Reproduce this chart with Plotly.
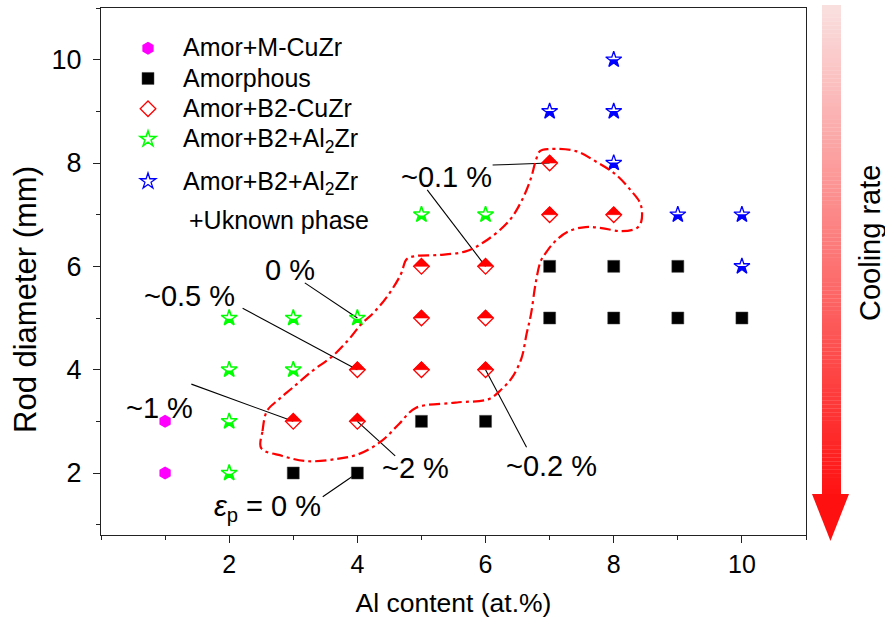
import math
import plotly.graph_objects as go

# ---------------- data ----------------
hex_x = [1, 1]
hex_y = [3, 2]

amor_x = [3, 4, 5, 6, 7, 8, 9, 7, 8, 9, 10]
amor_y = [2, 2, 3, 3, 6, 6, 6, 5, 5, 5, 5]

b2_x = [3, 4, 4, 5, 6, 5, 6, 5, 6, 7, 8, 7]
b2_y = [3, 3, 4, 4, 4, 5, 5, 6, 6, 7, 7, 8]

al2_x = [2, 2, 2, 3, 2, 3, 4, 5, 6]
al2_y = [2, 3, 4, 4, 5, 5, 5, 7, 7]

unk_x = [10, 9, 10, 8, 7, 8, 8]
unk_y = [6, 7, 7, 8, 9, 9, 10]

legend_names = ["Amor+M-CuZr", "Amorphous", "Amor+B2-CuZr",
                "Amor+B2+Al<sub>2</sub>Zr", "Amor+B2+Al<sub>2</sub>Zr"]
legend_extra = "+Uknown phase"

x_title = "Al content (at.%)"
y_title = "Rod diameter (mm)"
arrow_title = "Cooling rate"

# dash-dot boundary (closed)
bound_x = [2.50, 2.52, 2.59, 2.78, 2.98, 3.29, 3.61, 3.87, 4.06, 4.26, 4.49, 4.68, 4.77, 4.91,
           5.27, 5.69, 6.00, 6.36, 6.56, 6.71, 6.78, 6.85, 6.99, 7.41, 7.72, 8.03, 8.28, 8.42,
           8.43, 8.36, 8.12, 7.81, 7.56, 7.30, 7.09, 6.94, 6.86, 6.78, 6.71, 6.64, 6.56, 6.41,
           6.25, 6.05, 5.58, 5.43, 4.91, 4.65, 4.38, 4.03, 3.67, 3.20, 2.83, 2.50]
bound_y = [2.48, 2.81, 3.20, 3.43, 3.64, 3.97, 4.26, 4.59, 4.88, 5.11, 5.46, 5.85, 6.14, 6.20,
           6.22, 6.29, 6.49, 6.87, 7.26, 7.71, 8.03, 8.23, 8.27, 8.23, 8.03, 7.78, 7.45, 7.20,
           6.87, 6.74, 6.68, 6.74, 6.76, 6.68, 6.49, 6.26, 6.10, 5.66, 5.08, 4.69, 4.22, 3.84,
           3.62, 3.43, 3.37, 3.35, 3.26, 2.95, 2.62, 2.37, 2.27, 2.23, 2.33, 2.48]

# strain labels: text, label centre (x, y), leader start (x, y), pointed sample (x, y)
labels = ["~0.1 %", "~0.1 %", "~0.5 %", "0 %", "~1 %", "~2 %", "~0.2 %",
          "<i>ε</i><sub>p</sub> = 0 %"]
label_x = [5.39, None, 1.38, 2.95, 0.91, 4.91, 7.03, 2.60]
label_y = [7.73, None, 5.43, 5.92, 3.26, 2.10, 2.14, 1.32]
lead_x0 = [6.11, 5.09, 2.21, 3.18, 1.41, 4.59, 6.64, 3.46]
lead_y0 = [7.96, 7.48, 5.19, 5.68, 3.72, 2.33, 2.50, 1.54]
point_x = [7, 6, 4, 4, 3, 4, 6, 4]
point_y = [8, 6, 4, 5, 3, 3, 4, 2]

FONT = "Liberation Sans, Arial, sans-serif"
RED = "#FF0000"
GREEN = "#00FF00"
BLUE = "#0000FF"


def big(txt):
    return f'<span style="font-size:25px">{txt}</span>'


fig = go.Figure()

fig.add_trace(go.Scatter(x=hex_x, y=hex_y, mode="markers", name=big(legend_names[0]),
                         legendgroup="a",
                         marker=dict(symbol="hexagon", size=13, color="#FF00FF",
                                     line=dict(width=0))))
fig.add_trace(go.Scatter(x=amor_x, y=amor_y, mode="markers", name=big(legend_names[1]),
                         legendgroup="a",
                         marker=dict(symbol="square", size=12, color="black",
                                     line=dict(width=0.5, color="#444"))))
fig.add_trace(go.Scatter(x=b2_x, y=b2_y, mode="markers", name=big(legend_names[2]),
                         legendgroup="a",
                         marker=dict(symbol="diamond-open", size=12, color=RED,
                                     line=dict(width=1.3, color=RED))))
fig.add_trace(go.Scatter(x=al2_x, y=al2_y, mode="markers", name=big(legend_names[3]),
                         legendgroup="a",
                         marker=dict(symbol="star-open", size=12, color=GREEN,
                                     line=dict(width=1.5, color=GREEN))))
fig.add_trace(go.Scatter(x=unk_x, y=unk_y, mode="markers", name=big(legend_names[4]),
                         legendgroup="b",
                         marker=dict(symbol="star-open", size=12, color=BLUE,
                                     line=dict(width=1.3, color=BLUE))))

fig.add_trace(go.Scatter(x=bound_x, y=bound_y, mode="lines", showlegend=False,
                         line=dict(color=RED, width=2.2, shape="spline", smoothing=1.0,
                                   dash="11px,4px,3px,4px"),
                         hoverinfo="skip"))

shapes = []

# half-filled diamonds (top half) drawn in pixel units anchored on the data
rd = 1.3 * 6
top_half = f"M{-rd},0 L0,{rd} L{rd},0 Z"
for xv, yv in zip(b2_x, b2_y):
    shapes.append(dict(type="path", xref="x", yref="y", xsizemode="pixel", ysizemode="pixel",
                       xanchor=xv, yanchor=yv, path=top_half, fillcolor=RED,
                       line=dict(width=0.6, color=RED), layer="above"))


# half-filled stars (lower half)
def star_poly(size):
    r = size / 2.0
    rs = r * 1.4
    x1, x2, x3, x4 = rs * 0.225, rs * 0.951, rs * 0.363, rs * 0.588
    y1, y2, y3, y4, y5 = -rs, rs * -0.309, rs * 0.118, rs * 0.809, rs * 0.382
    pts = [(x1, y2), (x2, y2), (x3, y3), (x4, y4), (0, y5), (-x4, y4), (-x3, y3),
           (-x2, y2), (-x1, y2), (0, y1)]
    return [(px, -py) for px, py in pts], rs  # y up


def clip_below(poly, t):
    out = []
    n = len(poly)

    def inter(a, b):
        f = (t - a[1]) / (b[1] - a[1])
        return (a[0] + f * (b[0] - a[0]), t)

    for i in range(n):
        cur, prev = poly[i], poly[i - 1]
        cin, pin = cur[1] <= t, prev[1] <= t
        if cin:
            if not pin:
                out.append(inter(prev, cur))
            out.append(cur)
        elif pin:
            out.append(inter(prev, cur))
    return out


def poly_path(poly):
    return "M" + " L".join(f"{p[0]:.2f},{p[1]:.2f}" for p in poly) + " Z"


spoly, rs = star_poly(12)
star_half_blue = poly_path(clip_below(spoly, 0.05 * rs))
star_half_green = poly_path(clip_below(spoly, -0.1 * rs))
for xv, yv in zip(unk_x, unk_y):
    shapes.append(dict(type="path", xref="x", yref="y", xsizemode="pixel", ysizemode="pixel",
                       xanchor=xv, yanchor=yv, path=star_half_blue, fillcolor=BLUE,
                       line=dict(width=0), layer="above"))
for xv, yv in zip(al2_x, al2_y):
    shapes.append(dict(type="path", xref="x", yref="y", xsizemode="pixel", ysizemode="pixel",
                       xanchor=xv, yanchor=yv, path=star_half_green, fillcolor=GREEN,
                       line=dict(width=0), layer="above"))

# leader lines
for x0, y0, x1, y1 in zip(lead_x0, lead_y0, point_x, point_y):
    shapes.append(dict(type="line", xref="x", yref="y", x0=x0, y0=y0, x1=x1, y1=y1,
                       line=dict(color="black", width=1.1), layer="below"))

# cooling-rate gradient arrow (paper coords)
L, R = 101.0, 806.0
T, B = 8.0, 535.0
W, H = R - L, B - T


def px2paper_x(px):
    return (px - L) / W


def py2paper_y(py):
    return 1 - (py - T) / H


shaft_l, shaft_r = px2paper_x(822), px2paper_x(841)
top_y, base_y = py2paper_y(5), py2paper_y(494)
N = 120
for i in range(N):
    t = (i + 0.5) / N
    g = int(round(224 * (1 - t) + 18 * t))
    rr = int(round(250 * (1 - t) + 255 * t))
    ya = top_y + (base_y - top_y) * i / N
    yb = top_y + (base_y - top_y) * (i + 1) / N
    shapes.append(dict(type="rect", xref="paper", yref="paper", x0=shaft_l, x1=shaft_r,
                       y0=ya, y1=yb - 0.0005, fillcolor=f"rgb({rr},{g},{g})",
                       line=dict(width=0), layer="above"))
shapes.append(dict(type="path", xref="paper", yref="paper",
                   path=f"M{px2paper_x(812)},{base_y} L{px2paper_x(849)},{base_y} "
                        f"L{px2paper_x(830.5)},{py2paper_y(541)} Z",
                   fillcolor="rgb(255,16,16)", line=dict(width=0), layer="above"))

annotations = []
for txt, lx, ly in zip(labels, label_x, label_y):
    if lx is None:
        continue
    annotations.append(dict(x=lx, y=ly, xref="x", yref="y", text=txt, showarrow=False,
                            font=dict(family=FONT, size=29, color="black"),
                            xanchor="center", yanchor="middle"))
annotations.append(dict(x=px2paper_x(187), y=py2paper_y(220), xref="paper", yref="paper",
                        text=legend_extra, showarrow=False, xanchor="left",
                        yanchor="middle", font=dict(family=FONT, size=25, color="black")))
annotations.append(dict(x=px2paper_x(870), y=py2paper_y(243), xref="paper", yref="paper",
                        text=arrow_title, showarrow=False, textangle=-90,
                        xanchor="center", yanchor="middle",
                        font=dict(family=FONT, size=29, color="black")))
annotations.append(dict(x=px2paper_x(25), y=py2paper_y(300), xref="paper", yref="paper",
                        text=y_title, showarrow=False, textangle=-90,
                        xanchor="center", yanchor="middle",
                        font=dict(family=FONT, size=31, color="black")))

axis_common = dict(showline=True, linecolor="#222", linewidth=1.2, mirror=True,
                   ticks="outside", ticklen=7, tickwidth=1.2, tickcolor="#222",
                   showgrid=False, zeroline=False,
                   minor=dict(dtick=1, ticks="outside", ticklen=4, tickwidth=1.2,
                              tickcolor="#222", showgrid=False))

fig.update_layout(
    width=885, height=627,
    margin=dict(l=L, r=885 - R, t=T, b=627 - B),
    paper_bgcolor="white", plot_bgcolor="white",
    font=dict(family=FONT, color="black"),
    xaxis=dict(range=[0, 11], tickvals=[2, 4, 6, 8, 10], tick0=0,
               tickfont=dict(family=FONT, size=25, color="black"),
               title=dict(text=x_title, font=dict(family=FONT, size=26.5), standoff=16),
               **axis_common),
    yaxis=dict(range=[0.8, 11], tickvals=[2, 4, 6, 8, 10], tick0=1,
               tickfont=dict(family=FONT, size=27, color="black"), ticklabelstandoff=6,
               **axis_common),
    legend=dict(x=px2paper_x(113), y=py2paper_y(28), xanchor="left", yanchor="top",
                bgcolor="rgba(0,0,0,0)", borderwidth=0, tracegroupgap=12, itemwidth=60,
                font=dict(family=FONT, size=21, color="black")),
    shapes=shapes,
    annotations=annotations,
    showlegend=True,
)

fig.write_html("out.html")
